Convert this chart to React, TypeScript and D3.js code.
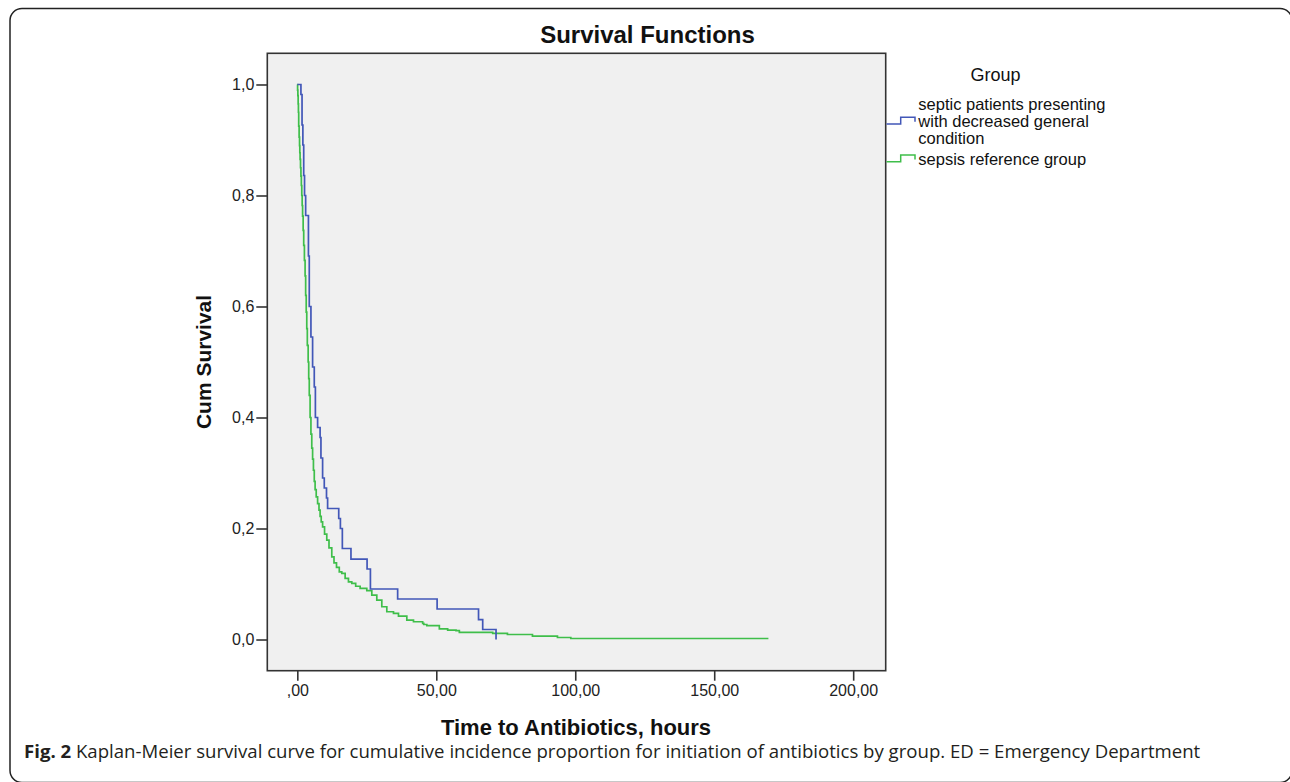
import React, { useEffect, useRef } from "react";
import * as d3 from "d3";

// Kaplan-Meier step points: [hours, cumulative survival]
const decreasedTimes = [0, 1.3, 1.7, 2.0, 2.3, 2.6, 3.0, 4.0, 4.3, 4.9, 5.5, 6.1, 6.5, 7.3, 8.2, 8.5, 9.1, 9.7, 10.5, 10.9, 14.9, 15.5, 16.2, 19.3, 25.1, 26.3, 36.1, 50.3, 65.2, 66.7, 71.5];
const decreasedSurv = [1.0, 0.982, 0.927, 0.891, 0.836, 0.8, 0.764, 0.691, 0.6, 0.545, 0.491, 0.455, 0.4, 0.382, 0.364, 0.327, 0.291, 0.273, 0.255, 0.236, 0.218, 0.2, 0.164, 0.145, 0.127, 0.091, 0.073, 0.055, 0.036, 0.018, 0.0];

const referenceTimes = [0, 0.1, 0.2, 0.3, 0.4, 0.5, 0.65, 0.8, 0.9, 1.0, 1.15, 1.3, 1.45, 1.6, 1.75, 1.9, 2.1, 2.3, 2.55, 2.8, 3.0, 3.2, 3.4, 3.6, 3.9, 4.1, 4.3, 4.6, 4.9, 5.2, 5.5, 5.8, 6.1, 6.4, 6.8, 7.3, 7.8, 8.2, 8.6, 9.1, 9.8, 10.6, 11.4, 12.4, 13.2, 14.1, 15.1, 16.0, 17.2, 18.4, 19.6, 21.0, 22.6, 25.0, 26.8, 28.6, 30.4, 32.2, 34.6, 36.4, 39.4, 41.8, 45.1, 45.5, 46.6, 51.1, 54.1, 57.1, 58.3, 70.3, 75.6, 84.6, 93.6, 98.4, 169.5];
const referenceSurv = [1.0, 0.99, 0.98, 0.965, 0.95, 0.925, 0.905, 0.89, 0.877, 0.865, 0.85, 0.835, 0.818, 0.8, 0.782, 0.763, 0.737, 0.71, 0.683, 0.655, 0.62, 0.59, 0.56, 0.53, 0.5, 0.47, 0.44, 0.4, 0.37, 0.345, 0.325, 0.305, 0.285, 0.27, 0.257, 0.245, 0.233, 0.222, 0.212, 0.203, 0.19, 0.179, 0.165, 0.149, 0.138, 0.13, 0.122, 0.119, 0.11, 0.104, 0.101, 0.096, 0.092, 0.088, 0.08, 0.071, 0.059, 0.05, 0.047, 0.042, 0.035, 0.032, 0.029, 0.027, 0.025, 0.019, 0.017, 0.016, 0.013, 0.011, 0.009, 0.006, 0.0036, 0.0018, 0.0018];

const groupNames = ["septic patients presenting with decreased general condition", "sepsis reference group"];
const legendLines = [["septic patients presenting", "with decreased general", "condition"], ["sepsis reference group"]];
const groupColors = ["#4257b8", "#3fbe4a"];

const xTicks = [0, 50, 100, 150, 200];
const xTickLabels = [",00", "50,00", "100,00", "150,00", "200,00"];
const yTicks = [0, 0.2, 0.4, 0.6, 0.8, 1.0];
const yTickLabels = ["0,0", "0,2", "0,4", "0,6", "0,8", "1,0"];

const captionBold = "Fig. 2";
const captionText = " Kaplan-Meier survival curve for cumulative incidence proportion for initiation of antibiotics by group. ED = Emergency Department";

export default function App() {
  const svgRef = useRef<SVGSVGElement | null>(null);

  useEffect(() => {
    if (!svgRef.current) return;
    const width = 1290;
    const height = 782;
    const plot = { left: 267.3, right: 885.7, top: 53.3, bottom: 670.7 };
    const font = "'Liberation Sans', Arial, sans-serif";

    const svg = d3.select(svgRef.current);
    svg.selectAll("*").remove();
    svg.attr("width", width).attr("height", height).attr("viewBox", `0 0 ${width} ${height}`);

    // outer figure frame
    svg
      .append("rect")
      .attr("x", 10)
      .attr("y", 8.5)
      .attr("width", 1282)
      .attr("height", 774)
      .attr("rx", 12)
      .attr("fill", "#fff")
      .attr("stroke", "#222")
      .attr("stroke-width", 1.5);

    const x = d3.scaleLinear().domain([-10.8, 211.7]).range([plot.left, plot.right]);
    const y = d3.scaleLinear().domain([-0.0562, 1.0562]).range([plot.bottom, plot.top]);

    svg
      .append("rect")
      .attr("x", plot.left)
      .attr("y", plot.top)
      .attr("width", plot.right - plot.left)
      .attr("height", plot.bottom - plot.top)
      .attr("fill", "#f0f0f0")
      .attr("stroke", "#333")
      .attr("stroke-width", 1.6);

    const xAxis = svg
      .append("g")
      .attr("transform", `translate(0,${plot.bottom})`)
      .call(
        d3
          .axisBottom(x)
          .tickValues(xTicks)
          .tickSize(10)
          .tickPadding(4)
          .tickFormat((d, i) => xTickLabels[i])
      );
    const yAxis = svg
      .append("g")
      .attr("transform", `translate(${plot.left},0)`)
      .call(
        d3
          .axisLeft(y)
          .tickValues(yTicks)
          .tickSize(11)
          .tickPadding(2)
          .tickFormat((d, i) => yTickLabels[i])
      );
    [xAxis, yAxis].forEach((g) => {
      g.select(".domain").remove();
      g.selectAll("line").attr("stroke", "#333").attr("stroke-width", 1.6);
      g.selectAll("text").attr("font-family", font).attr("font-size", 16).attr("fill", "#222");
    });

    const line = d3
      .line<[number, number]>()
      .x((d) => x(d[0]))
      .y((d) => y(d[1]))
      .curve(d3.curveStepAfter);

    const series: [number, number][][] = [
      decreasedTimes.map((t, i) => [t, decreasedSurv[i]]),
      referenceTimes.map((t, i) => [t, referenceSurv[i]]),
    ];

    // reference group drawn first, blue on top
    [1, 0].forEach((k) => {
      svg
        .append("path")
        .datum(series[k])
        .attr("fill", "none")
        .attr("stroke", groupColors[k])
        .attr("stroke-width", 1.7)
        .attr("d", line)
        .append("title")
        .text(groupNames[k]);
    });

    // titles
    svg
      .append("text")
      .attr("x", 647.5)
      .attr("y", 43)
      .attr("text-anchor", "middle")
      .attr("font-family", font)
      .attr("font-weight", "bold")
      .attr("font-size", 24)
      .attr("fill", "#111")
      .text("Survival Functions");

    svg
      .append("text")
      .attr("x", 576)
      .attr("y", 735)
      .attr("text-anchor", "middle")
      .attr("font-family", font)
      .attr("font-weight", "bold")
      .attr("font-size", 22)
      .attr("fill", "#111")
      .text("Time to Antibiotics, hours");

    svg
      .append("text")
      .attr("transform", `translate(211,${(plot.top + plot.bottom) / 2}) rotate(-90)`)
      .attr("text-anchor", "middle")
      .attr("font-family", font)
      .attr("font-weight", "bold")
      .attr("font-size", 21)
      .attr("fill", "#111")
      .text("Cum Survival");

    // legend
    const legend = svg.append("g").attr("font-family", font).attr("fill", "#111");
    legend
      .append("text")
      .attr("x", 995.5)
      .attr("y", 81)
      .attr("text-anchor", "middle")
      .attr("font-size", 18)
      .text("Group");

    const itemTop = [109.5, 164.5];
    const symbolY = [124, 161.7];
    legendLines.forEach((lines, k) => {
      const sy = symbolY[k];
      legend
        .append("path")
        .attr("d", `M886.5,${sy}H900.7V${sy - 6.7}H915V${sy - 2.3}`)
        .attr("fill", "none")
        .attr("stroke", groupColors[k])
        .attr("stroke-width", 1.5);
      const t = legend.append("text").attr("x", 918.3).attr("y", itemTop[k]).attr("font-size", 16.5);
      lines.forEach((s, j) => {
        t.append("tspan").attr("x", 918.3).attr("dy", j === 0 ? 0 : 17).text(s);
      });
    });

    // caption
    const cap = svg
      .append("text")
      .attr("x", 24)
      .attr("y", 758)
      .attr("font-family", "'Open Sans', 'Noto Sans', sans-serif")
      .attr("font-size", 18.6)
      .attr("fill", "#231f20");
    cap.append("tspan").attr("font-weight", "bold").text(captionBold);
    cap.append("tspan").text(captionText);
  }, []);

  return (
    <svg
      ref={svgRef}
      style={{ position: "absolute", left: 0, top: 0, display: "block" }}
    />
  );
}
